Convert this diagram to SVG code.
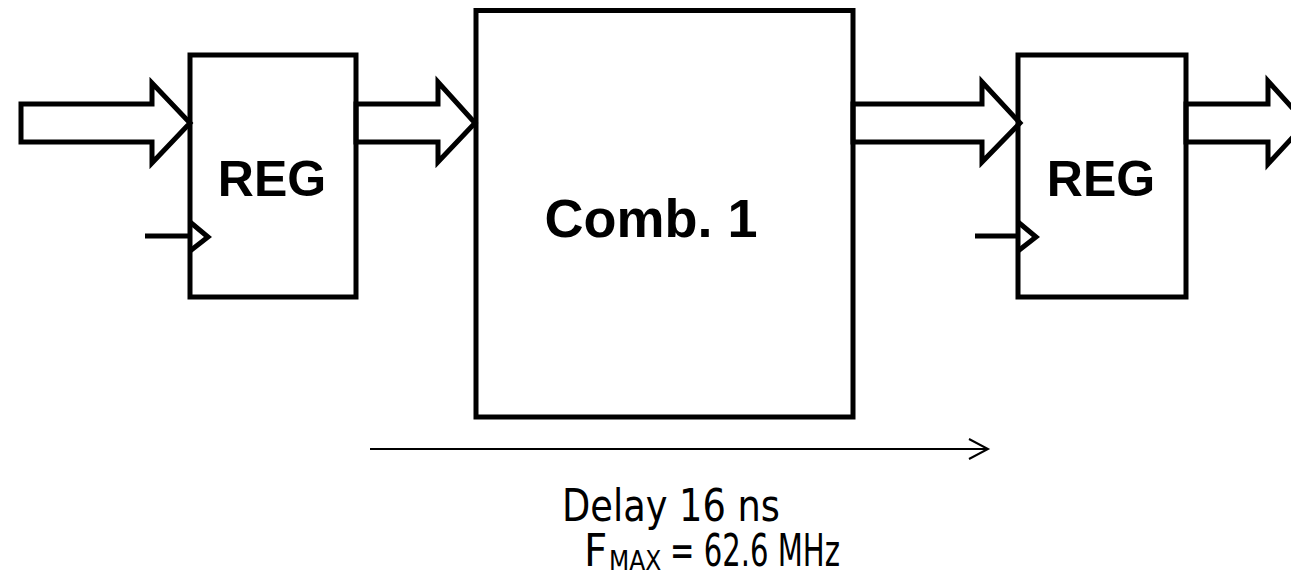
<svg xmlns="http://www.w3.org/2000/svg" width="1291" height="576" viewBox="0 0 1291 576">
<style>
.box{fill:none;stroke:#000;stroke-width:5}
.bus{fill:#fff;stroke:#000;stroke-width:5;stroke-linejoin:miter}
.clk{fill:none;stroke:#000;stroke-width:5}
.lbl{font-family:"Liberation Sans",Arial,sans-serif;font-weight:bold;fill:#000}
.cap{font-family:"DejaVu Sans Condensed","DejaVu Sans",sans-serif;font-size:45px;fill:#000}
.sub{font-family:"DejaVu Sans Condensed","DejaVu Sans",sans-serif;font-size:26px;fill:#000}
</style>
<rect width="1291" height="576" fill="#fff"/>
<g id="connectors">
<polygon class="bus" points="21,104 152,104 152,83 190,123 152,163 152,142 21,142"/>
<polygon class="bus" points="356,104 438,104 438,82 475,123 438,162 438,142 356,142"/>
<polygon class="bus" points="853,104 982,104 982,82 1020,123 982,162 982,142 853,142"/>
<polygon class="bus" points="1186,104 1268,104 1268,81 1306,123 1268,164 1268,142 1186,142"/>
<line x1="145" y1="236" x2="190" y2="236" class="clk"/>
<line x1="975" y1="236" x2="1018" y2="236" class="clk"/>
<line x1="370" y1="449" x2="987" y2="449" stroke="#000" stroke-width="2"/>
<polyline points="969,439 988,449 969,459" fill="none" stroke="#000" stroke-width="2"/>
</g>
<g id="reg1">
<rect class="box" x="190" y="55" width="166" height="242"/>
<polyline class="clk" points="190,222 208,237 190,251"/>
<text class="lbl" x="272" y="196" font-size="50" text-anchor="middle">REG</text>
</g>
<g id="comb1">
<rect class="box" x="476" y="10.5" width="377" height="406.5"/>
<text class="lbl" x="651" y="237" font-size="54" text-anchor="middle">Comb. 1</text>
</g>
<g id="reg2">
<rect class="box" x="1018" y="55" width="168" height="242"/>
<polyline class="clk" points="1018,222 1036,237 1018,251"/>
<text class="lbl" x="1101" y="196" font-size="50" text-anchor="middle">REG</text>
</g>
<g id="caption">
<text class="cap" x="562" y="521" textLength="218" lengthAdjust="spacingAndGlyphs">Delay 16 ns</text>
<text class="cap" x="584" y="566">F</text>
<text class="sub" x="609" y="570">MAX</text>
<text class="cap" x="670" y="566" textLength="170" lengthAdjust="spacingAndGlyphs">= 62.6 MHz</text>
</g>
</svg>
